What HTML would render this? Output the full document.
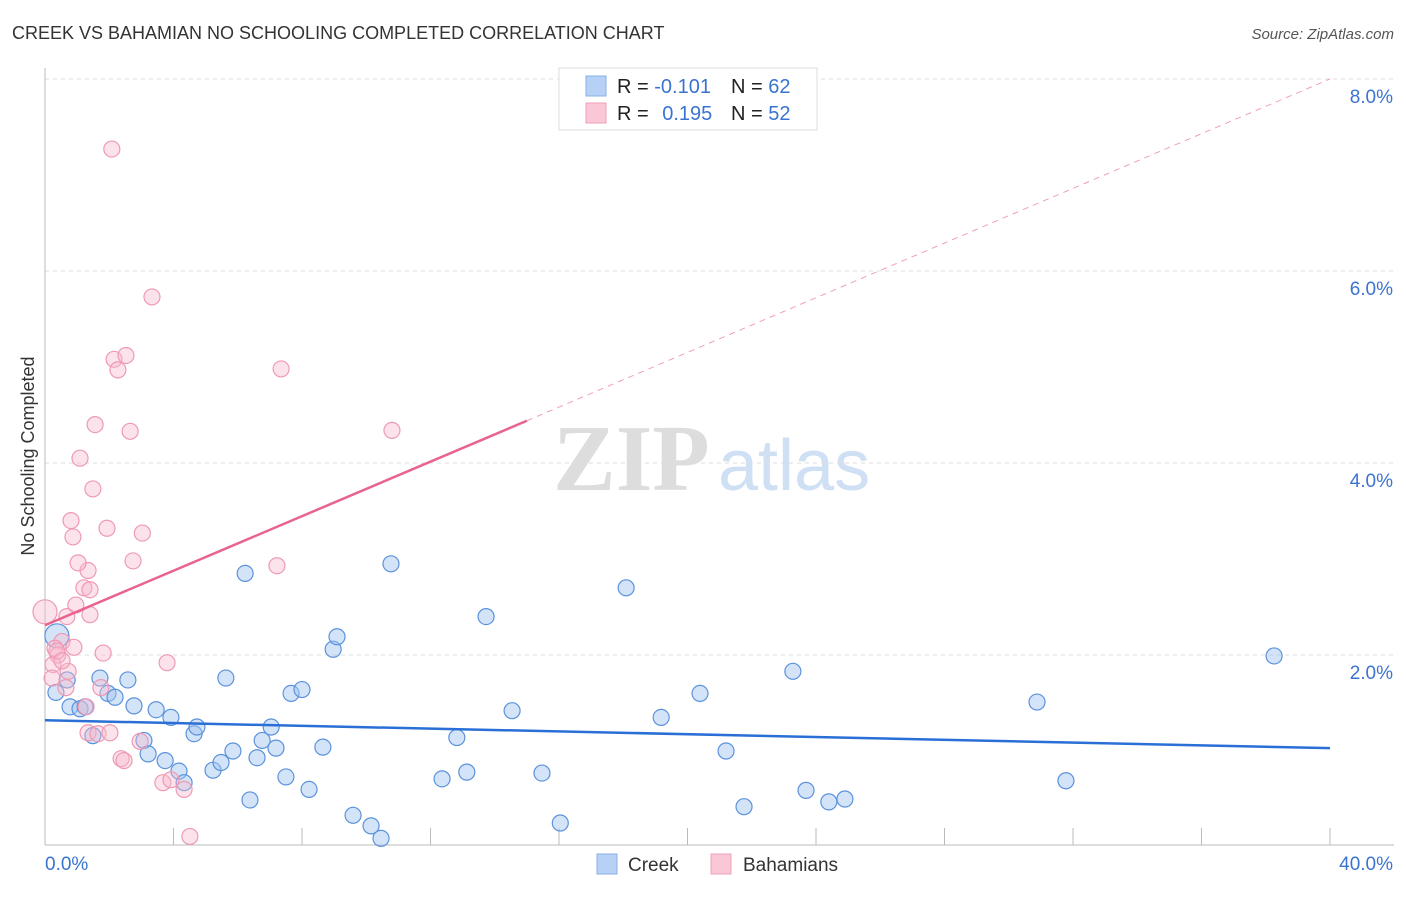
<!DOCTYPE html>
<html><head><meta charset="utf-8"><style>
body{margin:0;background:#fff;font-family:"Liberation Sans",sans-serif;}
svg text{font-family:"Liberation Sans",sans-serif;}
</style></head><body>
<svg id="chart" width="1406" height="892" xmlns="http://www.w3.org/2000/svg">
<text x="12" y="39" font-size="18" fill="#333">CREEK VS BAHAMIAN NO SCHOOLING COMPLETED CORRELATION CHART</text>
<text x="1394" y="39" font-size="15" fill="#555" font-style="italic" text-anchor="end">Source: ZipAtlas.com</text>
<text x="34" y="456" font-size="18" fill="#333" transform="rotate(-90 34 456)" text-anchor="middle">No Schooling Completed</text>
<text x="553" y="490" font-size="94" fill="#ddd" font-weight="bold" style="font-family:'Liberation Serif',serif">ZIP</text>
<text x="718" y="490" font-size="72" fill="#cfe0f5">atlas</text>
<g id="grid"></g><g id="axes"></g><g id="pts"></g><g id="trend"></g>
<g>
<rect x="559" y="68" width="258" height="62" fill="#fff" stroke="#ddd"/>
<rect x="586" y="76" width="20" height="20" fill="#b7d0f5" stroke="#8ab0e8"/>
<rect x="586" y="103" width="20" height="20" fill="#f9c7d5" stroke="#f0a0b8"/>
<text x="617" y="93" font-size="20" fill="#222">R = <tspan fill="#3b73d0">-0.101</tspan></text>
<text x="731" y="93" font-size="20" fill="#222">N = <tspan fill="#3b73d0">62</tspan></text>
<text x="617" y="120" font-size="20" fill="#222">R = <tspan fill="#3b73d0" dx="8">0.195</tspan></text>
<text x="731" y="120" font-size="20" fill="#222">N = <tspan fill="#3b73d0">52</tspan></text>
</g>
<g>
<rect x="597" y="854" width="20" height="20" fill="#b7d0f5" stroke="#8ab0e8"/>
<text x="628" y="871" font-size="19" fill="#333">Creek</text>
<rect x="711" y="854" width="20" height="20" fill="#f9c7d5" stroke="#f0a0b8"/>
<text x="743" y="871" font-size="19" fill="#333">Bahamians</text>
</g>
</svg>
<script>
const yTicks=[2,4,6,8];
const xTickLabels=["0.0%","40.0%"];
const creekX=[0.37,0.34,0.69,0.78,1.09,1.25,1.49,1.71,1.96,2.18,2.58,2.77,3.08,3.21,3.46,3.74,3.92,4.17,4.33,4.64,4.73,5.23,5.48,5.63,5.85,6.23,6.38,6.60,6.76,7.04,7.19,7.50,7.66,8.00,8.22,8.65,8.97,9.09,9.59,10.15,10.46,10.77,12.36,12.82,13.13,13.73,14.54,15.47,16.04,18.09,19.18,20.39,21.20,21.76,23.28,23.69,24.40,24.90,30.88,31.78,38.26];
const creekY=[2.20,1.61,1.74,1.46,1.44,1.46,1.16,1.76,1.60,1.56,1.74,1.47,1.11,0.97,1.43,0.90,1.35,0.79,0.67,1.18,1.25,0.80,0.88,1.76,1.00,2.85,0.49,0.93,1.11,1.25,1.03,0.73,1.60,1.64,0.60,1.04,2.06,2.19,0.33,0.22,0.09,2.95,0.71,1.14,0.78,2.40,1.42,0.77,0.25,2.70,1.35,1.60,1.00,0.42,1.83,0.59,0.47,0.50,1.51,0.69,1.99];
const bahX=[2.08,3.33,2.15,2.52,2.27,7.35,1.56,2.65,10.80,1.09,1.49,0.81,0.87,3.03,1.34,1.93,1.03,2.74,7.22,1.21,1.40,0.96,0.68,1.40,0.00,0.53,0.90,0.31,0.40,0.25,1.81,3.80,0.72,0.22,0.65,1.74,1.28,1.34,1.65,2.02,2.37,2.46,2.96,3.67,3.92,4.33,4.51,0.37,0.53];
const bahY=[7.27,5.73,5.08,5.12,4.97,4.98,4.40,4.33,4.34,4.05,3.73,3.40,3.23,3.27,2.88,3.32,2.96,2.98,2.93,2.70,2.68,2.52,2.40,2.42,2.45,2.14,2.08,2.07,2.00,1.90,2.02,1.92,1.83,1.76,1.66,1.66,1.46,1.19,1.18,1.19,0.92,0.90,1.10,0.67,0.70,0.60,0.11,2.04,1.94];
const creekTrend=[0,1.32,40,1.03];
const bahTrend=[0,2.31,15,4.44,40,8.0];
const X=v=>45+v/40*1285, Y=v=>847-v*96;
const NS="http://www.w3.org/2000/svg";
function mk(t,a,p){const e=document.createElementNS(NS,t);for(const k in a)e.setAttribute(k,a[k]);p.appendChild(e);return e;}
const grid=document.getElementById('grid'),axes=document.getElementById('axes'),pts=document.getElementById('pts'),tr=document.getElementById('trend');
yTicks.forEach(v=>{
 const l=mk('line',{x1:45,x2:1394,y1:Y(v),y2:Y(v),stroke:'#ddd','stroke-dasharray':'4,4'},grid);
 
 
 const t=mk('text',{x:1393,y:Y(v)+24,'font-size':19,fill:'#3b73d0','text-anchor':'end'},axes);t.textContent=v.toFixed(1)+'%';
 
 
});
mk('line',{x1:45,x2:45,y1:68,y2:845,stroke:'#bbb'},axes);
const xa=mk('line',{x1:45,x2:1394,y1:845,y2:845,stroke:'#bbb'},axes);


for(let i=0;i<=10;i++){mk('line',{x1:X(i*4),x2:X(i*4),y1:828,y2:845,stroke:'#bbb'},axes);}
xTickLabels.forEach((s,i)=>{const t=mk('text',{x:i?1393:45,y:870,'font-size':19,fill:'#3b73d0','text-anchor':i?'end':'start'},axes);t.textContent=s;
 
 });
creekX.forEach((v,i)=>{const c=mk('circle',{cx:X(v),cy:Y(creekY[i]),r:i==0?12:8,fill:'rgba(160,195,240,0.45)',stroke:'#5b92dc','stroke-width':1.2},pts);
 
 });
bahX.forEach((v,i)=>{const c=mk('circle',{cx:X(v),cy:Y(bahY[i]),r:v==0?12:8,fill:'rgba(248,185,205,0.4)',stroke:'#ee9ab4','stroke-width':1.2},pts);
 
 });
const cl=mk('line',{x1:X(creekTrend[0]),y1:Y(creekTrend[1]),x2:X(creekTrend[2]),y2:Y(creekTrend[3]),stroke:'#2a6fd6','stroke-width':2.5},tr);


const bl=mk('line',{x1:X(bahTrend[0]),y1:Y(bahTrend[1]),x2:X(bahTrend[2]),y2:Y(bahTrend[3]),stroke:'#e8638e','stroke-width':2.5},tr);


const bd=mk('line',{x1:X(bahTrend[2]),y1:Y(bahTrend[3]),x2:X(bahTrend[4]),y2:Y(bahTrend[5]),stroke:'#eea0b8','stroke-width':1,'stroke-dasharray':'6,5'},tr);


</script>
</body></html>
